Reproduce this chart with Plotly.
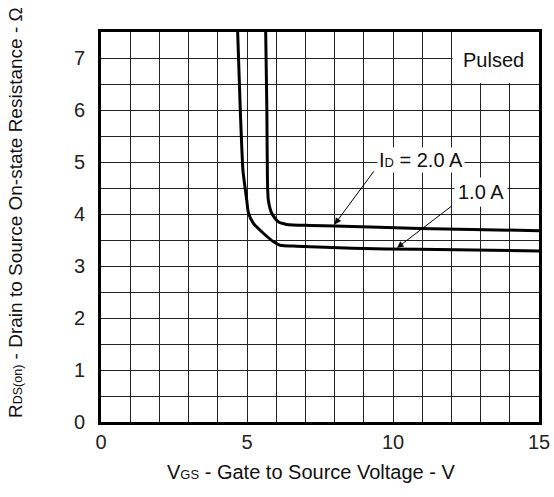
import plotly.graph_objects as go

# Data
vgs_1a = [4.68, 4.77, 4.86, 4.90, 4.99, 5.05, 5.22, 5.56, 5.90, 6.13, 6.70, 7.16, 8.6, 10.9, 15.0]
rds_1a = [7.5, 6.0, 4.85, 4.65, 4.27, 4.02, 3.82, 3.63, 3.47, 3.40, 3.38, 3.37, 3.34, 3.32, 3.29]

vgs_2a = [5.64, 5.68, 5.70, 5.73, 5.85, 6.07, 6.36, 7.16, 8.0, 10.9, 15.0]
rds_2a = [7.5, 6.0, 4.65, 4.27, 4.01, 3.85, 3.80, 3.78, 3.77, 3.72, 3.68]

x_ticks = [0, 5, 10, 15]
y_ticks = [0, 1, 2, 3, 4, 5, 6, 7]

FONT = "Liberation Sans, Arial, sans-serif"
GRID = "#222222"

fig = go.Figure()
for xs, ys in [(vgs_1a, rds_1a), (vgs_2a, rds_2a)]:
    fig.add_trace(go.Scatter(x=xs, y=ys, mode="lines",
                             line=dict(color="black", width=3, shape="spline", smoothing=0.6),
                             showlegend=False, hoverinfo="skip"))

axis_common = dict(showline=True, linewidth=3, linecolor="black", mirror=True,
                   showgrid=True, gridcolor=GRID, gridwidth=1.2, zeroline=False,
                   ticks="", tickfont=dict(family=FONT, size=20, color="#222"))

fig.update_xaxes(range=[0, 15], tickvals=x_ticks, ticklabelstandoff=0, automargin=False,
                 minor=dict(dtick=1, showgrid=True, gridcolor=GRID, gridwidth=1.2),
                 **axis_common)
fig.update_yaxes(range=[0, 7.5], tickvals=y_ticks, ticklabelstandoff=9, automargin=False,
                 minor=dict(dtick=0.5, showgrid=True, gridcolor=GRID, gridwidth=1.2),
                 **axis_common)

# White box behind "Pulsed"
fig.add_shape(type="rect", xref="x", yref="y", x0=12.04, x1=15, y0=6.52, y1=7.5,
              fillcolor="white", line=dict(width=0), layer="between")

fig.add_annotation(x=13.45, y=6.96, xref="x", yref="y", text="Pulsed", showarrow=False,
                   font=dict(family=FONT, size=20, color="#111"))

# Curve labels
fig.add_annotation(x=10.96, y=5.03, xref="x", yref="y",
                   text="I<span style='font-size:13px'>D</span> = 2.0 A", showarrow=False,
                   bgcolor="white", font=dict(family=FONT, size=20, color="#111"))
fig.add_annotation(x=13.0, y=4.42, xref="x", yref="y", text="1.0 A", showarrow=False,
                   bgcolor="white", borderpad=3, font=dict(family=FONT, size=20, color="#111"))

# Arrows
fig.add_annotation(x=8.0, y=3.80, ax=9.38, ay=4.85, xref="x", yref="y", axref="x", ayref="y",
                   text="", showarrow=True, arrowhead=2, arrowsize=1.3, arrowwidth=1, arrowcolor="black")
fig.add_annotation(x=10.14, y=3.35, ax=12.05, ay=4.17, xref="x", yref="y", axref="x", ayref="y",
                   text="", showarrow=True, arrowhead=2, arrowsize=1.3, arrowwidth=1, arrowcolor="black")

L, R, T, B = 101, 15, 32, 75
PW = 554 - L - R
PH = 497 - T - B

# Axis titles
fig.add_annotation(xref="paper", yref="paper", x=(311 - L) / PW, y=-(472 - 422) / PH,
                   text="V<span style='font-size:13px'>GS</span> - Gate to Source Voltage - V",
                   showarrow=False, xanchor="center", yanchor="middle",
                   font=dict(family=FONT, size=20, color="#111"))
fig.add_annotation(xref="paper", yref="paper", x=-(L - 15) / PW, y=(422 - 213) / PH,
                   text="R<span style='font-size:12.5px'>DS(on)</span> - Drain to Source On-state Resistance - Ω",
                   showarrow=False, textangle=-90, xanchor="center", yanchor="middle",
                   font=dict(family=FONT, size=19, color="#111"))

fig.update_layout(width=554, height=497, margin=dict(l=L, r=R, t=T, b=B, autoexpand=False),
                  plot_bgcolor="white", paper_bgcolor="white")

fig.write_html("out.html",
               config={"displayModeBar": False, "responsive": False},
               post_script=("document.documentElement.style.overflow='hidden';"
                            "document.body.style.overflow='hidden';"
                            "document.body.style.margin='0';document.body.style.padding='0';"))
